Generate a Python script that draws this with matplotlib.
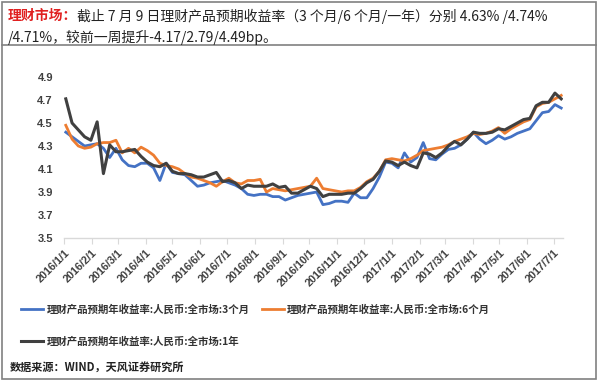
import matplotlib
matplotlib.use("Agg")
import matplotlib.pyplot as plt
from matplotlib.patches import Rectangle
import pandas as pd

plt.rcParams['font.family'] = ['Noto Sans CJK SC', 'DejaVu Sans']

dates = pd.date_range("2016-01-03", "2017-07-09", freq="7D")

yield_3m = [4.42, 4.38, 4.34, 4.30, 4.31, 4.32, 4.28, 4.20, 4.28, 4.18,
            4.13, 4.12, 4.15, 4.15, 4.11, 4.00, 4.15, 4.07, 4.06, 4.05,
            4.00, 3.95, 3.96, 3.98, 3.99, 4.00, 3.98, 3.96, 3.93, 3.88,
            3.87, 3.88, 3.88, 3.86, 3.86, 3.83, 3.85, 3.87, 3.88, 3.89,
            3.90, 3.79, 3.80, 3.82, 3.82, 3.81, 3.89, 3.85, 3.85, 3.93,
            4.03, 4.16, 4.15, 4.11, 4.24, 4.16, 4.20, 4.33, 4.19, 4.18,
            4.23, 4.27, 4.28, 4.31, 4.36, 4.42, 4.36, 4.32, 4.35, 4.39,
            4.36, 4.38, 4.41, 4.43, 4.45, 4.52, 4.59, 4.60, 4.66, 4.63]

yield_6m = [4.48, 4.36, 4.30, 4.28, 4.29, 4.32, 4.33, 4.33, 4.35, 4.24,
            4.28, 4.24, 4.29, 4.26, 4.22, 4.15, 4.13, 4.12, 4.10, 4.06,
            4.03, 4.02, 4.00, 3.98, 3.95, 3.99, 4.02, 3.98, 3.97, 4.00,
            4.00, 4.01, 3.90, 3.93, 3.92, 3.91, 3.92, 3.93, 3.94, 3.95,
            4.02, 3.93, 3.92, 3.91, 3.90, 3.91, 3.91, 3.94, 3.99, 4.02,
            4.08, 4.18, 4.19, 4.18, 4.17, 4.19, 4.22, 4.26, 4.27, 4.28,
            4.29, 4.31, 4.34, 4.36, 4.38, 4.41, 4.40, 4.41, 4.43, 4.46,
            4.41, 4.45, 4.48, 4.51, 4.53, 4.64, 4.67, 4.68, 4.71, 4.74]

yield_1y = [4.71, 4.50, 4.44, 4.38, 4.35, 4.51, 4.06, 4.31, 4.25, 4.25,
            4.26, 4.27, 4.21, 4.16, 4.13, 4.12, 4.15, 4.08, 4.06, 4.06,
            4.05, 4.03, 4.03, 4.05, 4.07, 3.99, 4.00, 3.98, 3.93, 3.96,
            3.95, 3.95, 3.95, 3.97, 3.94, 3.95, 3.89, 3.89, 3.92, 3.95,
            3.93, 3.86, 3.88, 3.88, 3.88, 3.89, 3.89, 3.93, 3.98, 4.01,
            4.08, 4.17, 4.16, 4.13, 4.16, 4.13, 4.11, 4.24, 4.23, 4.20,
            4.24, 4.30, 4.34, 4.31, 4.36, 4.42, 4.41, 4.41, 4.42, 4.45,
            4.44, 4.47, 4.50, 4.53, 4.54, 4.65, 4.68, 4.68, 4.76, 4.71]

labels = ["理财产品预期年收益率:人民币:全市场:3个月",
          "理财产品预期年收益率:人民币:全市场:6个月",
          "理财产品预期年收益率:人民币:全市场:1年"]
colors = ["#4472C4", "#ED7D31", "#404040"]

tick_dates = pd.date_range("2016-01-01", "2017-07-01", freq="MS")
tick_labels = [f"{d.year}/{d.month}/1" for d in tick_dates]
yticks = [3.5, 3.7, 3.9, 4.1, 4.3, 4.5, 4.7, 4.9]

title_red = "理财市场："
title_line1 = "截止 7 月 9 日理财产品预期收益率（3 个月/6 个月/一年）分别 4.63% /4.74%"
title_line2 = "/4.71%，较前一周提升-4.17/2.79/4.49bp。"
source = "数据来源：WIND，天风证券研究所"

W, H = 600, 382
fig = plt.figure(figsize=(6, 3.82), dpi=100)

def fx(px):
    return px / W

def fy(py):
    return 1 - py / H

ax = fig.add_axes([fx(64), fy(238), fx(563) - fx(64), fy(77) - fy(238)])
series = [yield_3m, yield_6m, yield_1y]
widths = [2.0, 2.0, 2.2]
handles = []
for s, c, l, w in zip(series, colors, labels, widths):
    h, = ax.plot(dates, s, color=c, lw=w, label=l, solid_joinstyle='round')
    handles.append(h)

ax.set_ylim(3.5, 4.9)
ax.set_xlim(pd.Timestamp("2016-01-01"), pd.Timestamp("2017-07-11"))
ax.set_yticks(yticks)
ax.set_yticklabels([f"{v:.1f}" for v in yticks], fontsize=8, fontweight='bold',
                   color='#404040', family=['Liberation Sans', 'DejaVu Sans'])
ax.set_xticks(tick_dates)
ax.set_xticklabels(tick_labels, rotation=45, ha='right', rotation_mode='anchor',
                   fontsize=7.8, fontweight='bold', color='#404040',
                   family=['Liberation Sans', 'DejaVu Sans'])
ax.tick_params(axis='y', length=0, pad=8)
ax.tick_params(axis='x', length=4, color='#d9d9d9', direction='out', pad=3)
for side in ['top', 'right', 'left']:
    ax.spines[side].set_visible(False)
ax.spines['bottom'].set_color('#d9d9d9')
ax.spines['bottom'].set_linewidth(1.0)

# legend (row-major order)
order = [0, 2, 1]
leg = fig.legend([handles[i] for i in order], [labels[i] for i in order],
                 loc='upper left', bbox_to_anchor=(fx(12), fy(295)), ncol=2,
                 frameon=False, handlelength=2.1, handletextpad=0.3,
                 labelspacing=2.1, columnspacing=1.2,
                 prop={'family': ['Noto Sans CJK SC', 'DejaVu Sans'],
                       'size': 7.5, 'weight': 'bold'})
for t in leg.get_texts():
    t.set_color('#333333')

# borders
fig.patches.append(Rectangle((fx(2), fy(379)), fx(596) - fx(2), fy(2) - fy(379),
                             transform=fig.transFigure, fill=False,
                             edgecolor='#808080', lw=1.2))
fig.add_artist(plt.Line2D([fx(2), fx(596)], [fy(45), fy(45)],
                          transform=fig.transFigure, color='#808080', lw=1.2))

# title
fig.canvas.draw()
renderer = fig.canvas.get_renderer()
t_red = fig.text(fx(8), fy(16), title_red, color='#E02020', fontsize=10,
                 fontweight='bold', va='center', ha='left')
bb = t_red.get_window_extent(renderer=renderer)
x_next = bb.x1 / fig.bbox.width
fig.text(x_next, fy(16), title_line1, color='#222222', fontsize=10,
         va='center', ha='left')
fig.text(fx(8), fy(37), title_line2, color='#222222', fontsize=10,
         va='center', ha='left')

fig.text(fx(10), fy(367), source, color='#222222', fontsize=8,
         fontweight='bold', style='italic', va='center', ha='left')

fig.savefig("out.png", dpi=100)
